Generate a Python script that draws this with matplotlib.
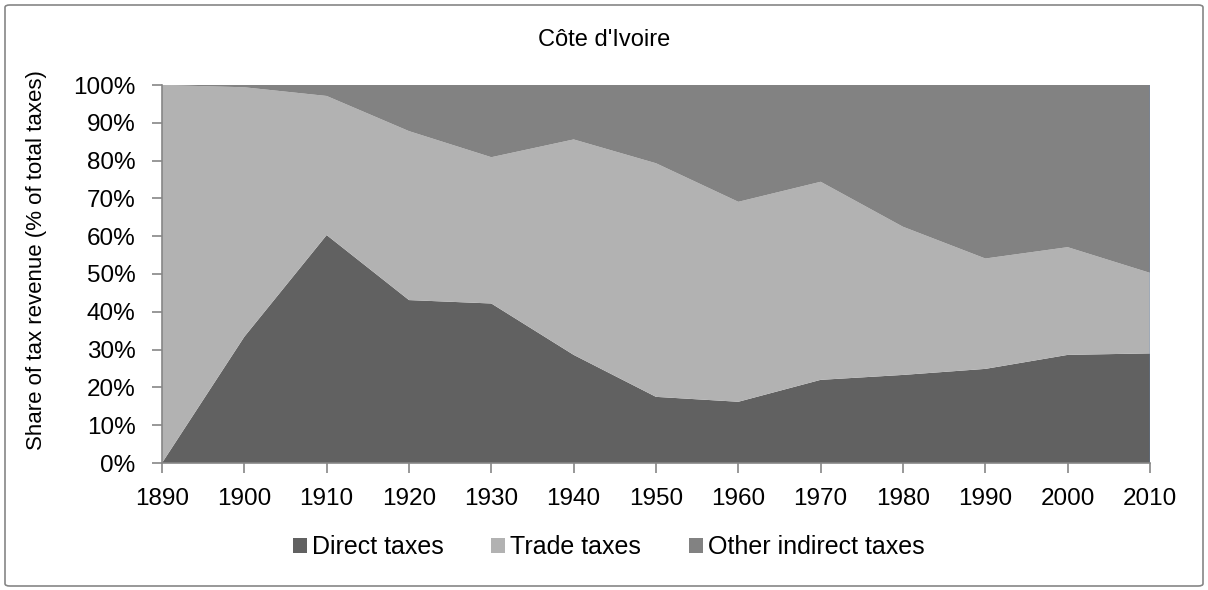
import numpy as np
from matplotlib import pyplot as plt
from matplotlib.patches import FancyBboxPatch, Patch

plt.rcParams['font.family'] = ['Liberation Sans', 'DejaVu Sans']

years = [1890, 1900, 1910, 1920, 1930, 1940, 1950, 1960, 1970, 1980, 1990, 2000, 2010]
direct = [0.0, 33.4, 60.3, 43.1, 42.2, 28.6, 17.5, 16.2, 22.0, 23.3, 24.9, 28.6, 29.0]
direct_trade = [100.0, 99.4, 97.1, 87.8, 80.9, 85.6, 79.3, 69.1, 74.4, 62.5, 54.1, 57.1, 50.3]

trade = [t - d for t, d in zip(direct_trade, direct)]
other = [100 - t for t in direct_trade]

names = ['Direct taxes', 'Trade taxes', 'Other indirect taxes']
colors = ['#616161', '#b2b2b2', '#828282']

fig = plt.figure(figsize=(12.08, 5.90), dpi=100)
ax = fig.add_axes([162 / 1208, 1 - 463 / 590, (1150 - 162) / 1208, (463 - 85) / 590])

ax.stackplot(years, direct, trade, other, colors=colors, linewidth=0)
ax.axvline(2010, color='#5b8bd0', lw=1)

ax.set_xlim(1890, 2010)
ax.set_ylim(0, 100)
ax.set_xticks(years)
ax.set_yticks(range(0, 101, 10))
ax.set_yticklabels([f'{v}%' for v in range(0, 101, 10)])
ax.tick_params(labelsize=17.5, length=7, color='#868686', width=1.2)
ax.tick_params(axis='y', pad=12)
ax.tick_params(axis='x', pad=11)
for s in ['top', 'right']:
    ax.spines[s].set_visible(False)
for s in ['left', 'bottom']:
    ax.spines[s].set_color('#868686')
    ax.spines[s].set_linewidth(1.2)

ax.set_ylabel('Share of tax revenue (% of total taxes)', fontsize=16)
ax.yaxis.set_label_coords((47 - 162) / 988, 0.537)
fig.text(0.5, 1 - 40 / 590, "Côte d'Ivoire", ha='center', va='center', fontsize=17)

handles = [Patch(facecolor=c, edgecolor='none') for c in colors]
fig.legend(handles, names, loc='center', bbox_to_anchor=(0.504, 1 - 547 / 590),
           ncol=3, frameon=False, fontsize=18, handlelength=0.56, handleheight=0.56,
           handletextpad=0.2, columnspacing=1.9)

# outer chart border
fig.patches.append(FancyBboxPatch((5 / 1208, 4 / 590), 1198 / 1208, 581 / 590,
                                  boxstyle='round,pad=0,rounding_size=0.004',
                                  transform=fig.transFigure, facecolor='none',
                                  edgecolor='#868686', linewidth=1.2))

fig.savefig('out.png', dpi=100)
